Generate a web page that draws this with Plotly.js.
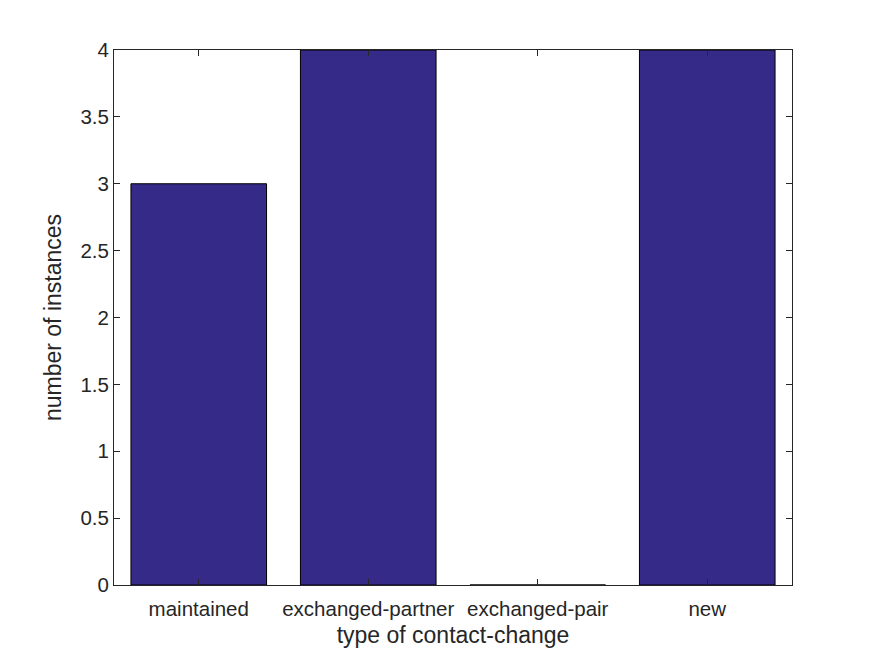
<!DOCTYPE html>
<html>
<head>
<meta charset="utf-8">
<script src="https://cdn.plot.ly/plotly-3.0.1.min.js"></script>
<style>html,body{margin:0;padding:0;background:#fff;}</style>
</head>
<body>
<div id="chart" style="width:875px;height:656px;"></div>
<script>
const categories = ["maintained", "exchanged-partner", "exchanged-pair", "new"];
const counts = [3, 4, 0, 4];
const yTicks = [0, 0.5, 1, 1.5, 2, 2.5, 3, 3.5, 4];

const trace = {
  type: "bar",
  x: categories,
  y: counts,
  width: 0.8,
  marker: { color: "#352a87", line: { color: "#000000", width: 1 } },
  hoverinfo: "x+y"
};

const FONT = "Liberation Sans, Arial, sans-serif";

const axisCommon = {
  showline: true,
  linecolor: "#262626",
  linewidth: 1,
  mirror: "ticks",
  ticks: "inside",
  ticklen: 6,
  tickcolor: "#262626",
  showgrid: false,
  zeroline: false,
  tickfont: { family: FONT, size: 20.5, color: "#262626" }
};

const layout = {
  width: 875,
  height: 656,
  margin: { l: 114, r: 83, t: 50, b: 71 },
  paper_bgcolor: "#ffffff",
  plot_bgcolor: "#ffffff",
  showlegend: false,
  xaxis: Object.assign({}, axisCommon, {
    type: "category",
    range: [-0.5, 3.5],
    ticklabelstandoff: 5,
    title: { text: "type of contact-change", font: { family: FONT, size: 23, color: "#262626" }, standoff: 8 }
  }),
  yaxis: Object.assign({}, axisCommon, {
    range: [0, 4],
    tickvals: yTicks,
    ticktext: yTicks.map(String),
    title: { text: "number of instances", font: { family: FONT, size: 23, color: "#262626" }, standoff: 12 }
  })
};

Plotly.newPlot("chart", [trace], layout, { displayModeBar: false, staticPlot: true });
</script>
</body>
</html>
